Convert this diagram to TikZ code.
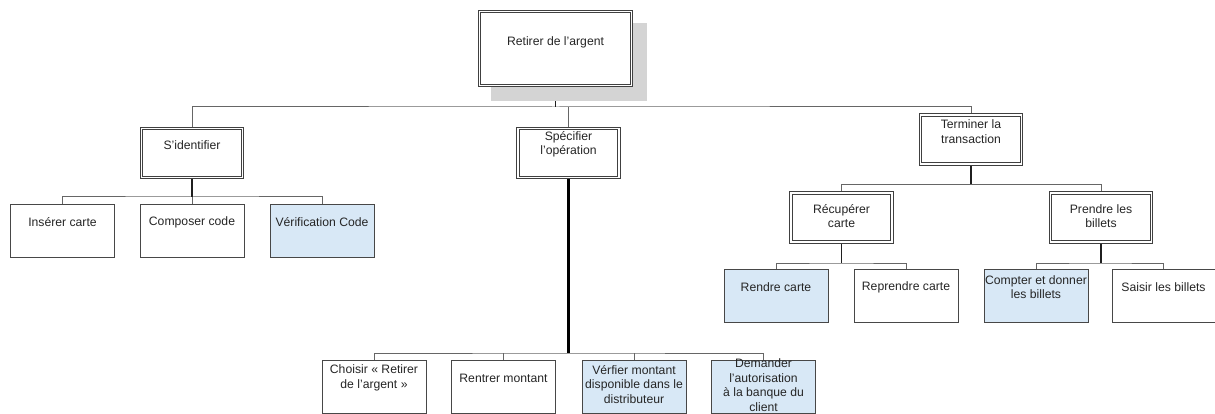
\documentclass[tikz,border=0pt]{standalone}
\usepackage{fontspec}
\setmainfont{Liberation Sans}
\pgfdeclarelayer{background}
\pgfsetlayers{background,main}
\begin{document}
\begin{tikzpicture}[x=1pt,y=-1pt,
  every node/.style={inner sep=0pt,outer sep=0pt},
  leaf/.style={draw=black!72,line width=0.9pt,fill=white,minimum width=104pt,minimum height=53pt},
  hot/.style={leaf,fill=blueleaf},
  group/.style={draw=black!75,line width=0.9pt,double=white,double distance=1.4pt,fill=white,minimum width=101pt,minimum height=49pt},
  txt/.style={align=center,text=black!85,font=\fontsize{12.2}{14.5}\selectfont},
  bus/.style={draw=black!60,line width=1pt},
  trunk/.style={draw=black!88,line width=1.5pt},
  mainline/.style={draw=black,line width=2.4pt}]
\definecolor{blueleaf}{RGB}{216,232,246}
\definecolor{shadowgray}{RGB}{212,212,212}
\useasboundingbox (0,0) rectangle (1215,414);

% root with its drop shadow
\fill[shadowgray] (491,23) rectangle (647,101);
\node[group,minimum width=152pt,minimum height=74pt] (root) at (555.5,48.5) {};
\node[txt] (root-t) at ([yshift=6pt]root.center) {Retirer de l'argent};

% second level
\node[group] (sid) at (192,153) {};
\node[txt] (sid-t) at ([yshift=8pt]sid.center) {S'identifier};
\node[group] (spec) at (568.5,153) {};
\node[txt] (spec-t) at ([yshift=8.5pt]spec.center) {Spécifier\\l'opération};
\node[group] (term) at (971,139.5) {};
\node[txt] (term-t) at ([yshift=8pt]term.center) {Terminer la\\transaction};

% identification steps
\node[leaf] (ins) at (62.5,230.5) {};
\node[txt] (ins-t) at ([yshift=8pt]ins.center) {Insérer carte};
\node[leaf] (comp) at (192,230.5) {};
\node[txt] (comp-t) at ([yshift=8pt]comp.center) {Composer code};
\node[hot] (vcode) at (322,230.5) {};
\node[txt] (vcode-t) at ([yshift=8pt]vcode.center) {Vérification Code};

% operation steps
\node[leaf] (chois) at (374,387) {};
\node[txt] (chois-t) at ([yshift=9pt]chois.center) {Choisir « Retirer\\de l'argent »};
\node[leaf] (rentr) at (503.5,387) {};
\node[txt] (rentr-t) at ([yshift=9pt]rentr.center) {Rentrer montant};
\node[hot] (vmont) at (634,387) {};
\node[txt] (vmont-t) at ([yshift=2.5pt]vmont.center) {Vérfier montant\\disponible dans le\\distributeur};
\node[hot] (dem) at (763.5,387) {};
\node[txt] (dem-t) at ([yshift=2pt]dem.center) {Demander\\l'autorisation\\à la banque du\\client};

% end of transaction
\node[group] (rec) at (841.5,217.5) {};
\node[txt] (rec-t) at ([yshift=1.5pt]rec.center) {Récupérer\\carte};
\node[group] (prend) at (1101,217.5) {};
\node[txt] (prend-t) at ([yshift=1.5pt]prend.center) {Prendre les\\billets};
\node[hot] (rend) at (776,295.5) {};
\node[txt] (rend-t) at ([yshift=8.5pt]rend.center) {Rendre carte};
\node[leaf] (repr) at (906,295.5) {};
\node[txt] (repr-t) at ([yshift=8.5pt]repr.center) {Reprendre carte};
\node[hot] (compt) at (1036,295.5) {};
\node[txt] (compt-t) at ([yshift=8.5pt]compt.center) {Compter et donner\\les billets};
\node[leaf,minimum width=103pt] (sais) at (1163.5,295.5) {};
\node[txt] (sais-t) at ([yshift=8.5pt]sais.center) {Saisir les billets};

% junction points of the buses
\coordinate (j0) at (555.5,107);
\coordinate (j1) at (192,197);
\coordinate (j2) at (568.5,353);
\coordinate (j3) at (971,184.5);
\coordinate (j4) at (841.5,263);
\coordinate (j5) at (1101,263);

% connectors, kept behind the boxes
\begin{pgfonlayer}{background}
\draw[bus] (sid.north) |- (j0) -| (term.north);
\draw[bus] (spec.north) -- (spec.north |- j0);
\draw[trunk] (root.south) -- (j0);

\draw[bus] (ins.north) |- (j1) -| (vcode.north);
\draw[bus] (comp.north) -- (j1);
\draw[trunk] (sid.south) -- (j1);

\draw[bus] (chois.north) |- (j2) -| (dem.north);
\draw[bus] (rentr.north) -- (rentr.north |- j2);
\draw[bus] (vmont.north) -- (vmont.north |- j2);
\draw[mainline] (spec.south) -- (j2);

\draw[bus] (rec.north) |- (j3) -| (prend.north);
\draw[trunk] (term.south) -- (j3);

\draw[bus] (rend.north) |- (j4) -| (repr.north);
\draw[trunk] (rec.south) -- (j4);
\draw[bus] (compt.north) |- (j5) -| (sais.north);
\draw[trunk] (prend.south) -- (j5);
\end{pgfonlayer}
\end{tikzpicture}
\end{document}
